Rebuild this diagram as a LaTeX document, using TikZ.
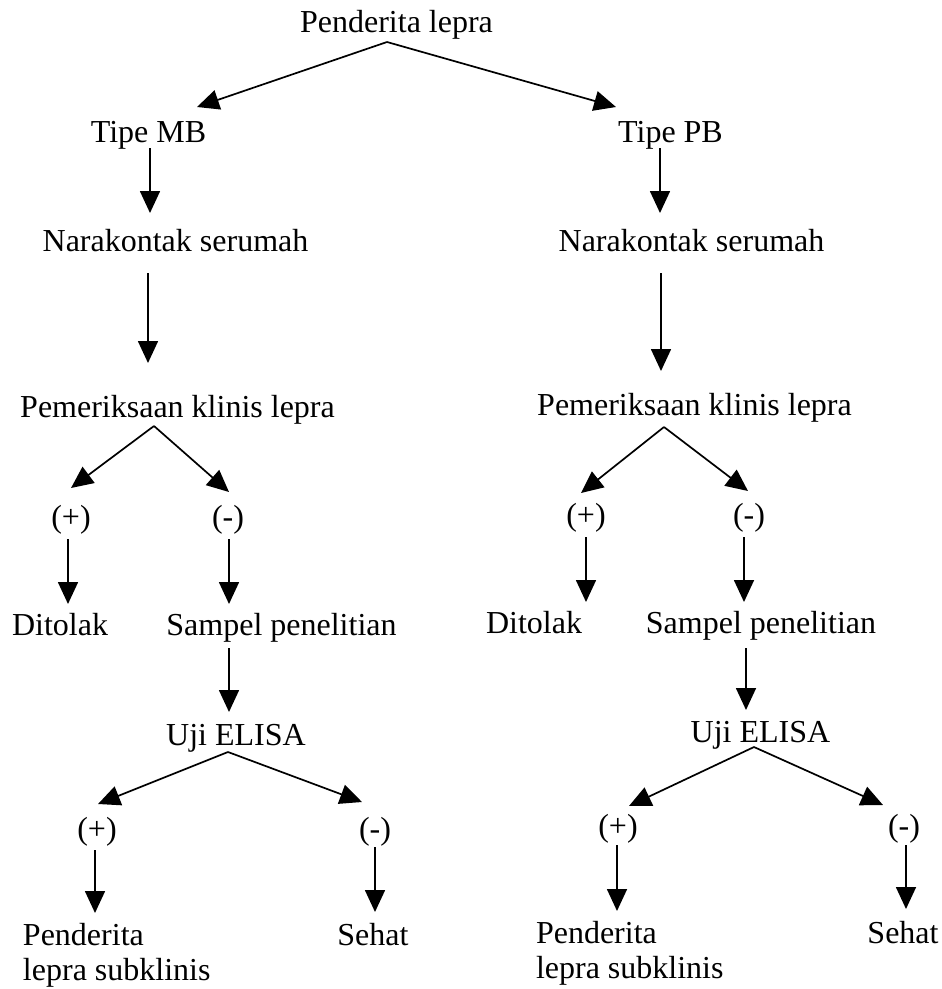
\documentclass[tikz,border=0pt]{standalone}
\usepackage{fontspec}
\setmainfont{Liberation Serif}
\usetikzlibrary{arrows.meta}
\tikzset{
  lbl/.style={inner sep=0pt, outer sep=0pt, anchor=base, text height=22pt, text depth=7pt,
    font=\fontsize{32}{35}\selectfont},
  lbl2/.style={inner sep=0pt, outer sep=0pt, anchor=north west, align=left,
    font=\fontsize{32}{35}\selectfont},
  arr/.style={line width=1.7pt, -{Triangle[length=22pt,width=20pt]}}
}
\begin{document}
\begin{tikzpicture}[x=1pt,y=-1pt]
\path[use as bounding box, fill=white] (0,0) rectangle (942,989);

% nodes
\node[lbl] (pl)  at (396.5,32) {Penderita lepra};
\node[lbl] (tmb) at (148.5,142) {Tipe MB};
\node[lbl] (tpb) at (670.5,142) {Tipe PB};
\node[lbl] (nk1) at (175.5,251) {Narakontak serumah};
\node[lbl] (nk2) at (691.5,251) {Narakontak serumah};
\node[lbl] (pk1) at (177.5,417) {Pemeriksaan klinis lepra};
\node[lbl] (pk2) at (694.5,415) {Pemeriksaan klinis lepra};
\node[lbl] (p1a) at (71,527) {(+)};
\node[lbl] (m1a) at (228,527) {(-)};
\node[lbl] (p2a) at (586,525) {(+)};
\node[lbl] (m2a) at (749,525) {(-)};
\node[lbl] (dt1) at (60,635) {Ditolak};
\node[lbl] (sp1) at (281.5,635) {Sampel penelitian};
\node[lbl] (dt2) at (534,633) {Ditolak};
\node[lbl] (sp2) at (761,633) {Sampel penelitian};
\node[lbl] (ue1) at (236,745) {Uji ELISA};
\node[lbl] (ue2) at (760.5,742) {Uji ELISA};
\node[lbl] (p1b) at (97,839) {(+)};
\node[lbl] (m1b) at (375,839) {(-)};
\node[lbl] (p2b) at (618,836) {(+)};
\node[lbl] (m2b) at (904,836) {(-)};
\node[lbl2] (pd1) at (23,923) {Penderita\\lepra subklinis};
\node[lbl] (sh1) at (373,945) {Sehat};
\node[lbl2] (pd2) at (536,921) {Penderita\\lepra subklinis};
\node[lbl] (sh2) at (903,943) {Sehat};

% connectors
\draw[arr] ([shift={(-9.5,10)}]pl.base) -- ([shift={(48.5,-35)}]tmb.base);
\draw[arr] ([shift={(-9.5,10)}]pl.base) -- ([shift={(-54.5,-35)}]tpb.base);
\draw[arr] ([shift={(1.5,6)}]tmb.base) -- ([shift={(-25.5,-38)}]nk1.base);
\draw[arr] ([shift={(-10.5,6)}]tpb.base) -- ([shift={(-31.5,-38)}]nk2.base);
\draw[arr] ([shift={(-27.5,22)}]nk1.base) -- ([shift={(-29.5,-54)}]pk1.base);
\draw[arr] ([shift={(-30.5,22)}]nk2.base) -- ([shift={(-33.5,-44)}]pk2.base);
\draw[arr] ([shift={(-23.5,9)}]pk1.base) -- ([shift={(0,-39)}]p1a.base);
\draw[arr] ([shift={(-23.5,9)}]pk1.base) -- ([shift={(1,-35)}]m1a.base);
\draw[arr] ([shift={(-30.5,12)}]pk2.base) -- ([shift={(-5,-32)}]p2a.base);
\draw[arr] ([shift={(-30.5,12)}]pk2.base) -- ([shift={(-1,-34)}]m2a.base);
\draw[arr] ([shift={(-3,12)}]p1a.base) -- ([shift={(8,-31)}]dt1.base);
\draw[arr] ([shift={(1,12)}]m1a.base) -- ([shift={(-52.5,-31)}]sp1.base);
\draw[arr] ([shift={(0,12)}]p2a.base) -- ([shift={(52,-31)}]dt2.base);
\draw[arr] ([shift={(-5,12)}]m2a.base) -- ([shift={(-17,-31)}]sp2.base);
\draw[arr] ([shift={(-52.5,13)}]sp1.base) -- ([shift={(-7,-33)}]ue1.base);
\draw[arr] ([shift={(-15,15)}]sp2.base) -- ([shift={(-14.5,-32)}]ue2.base);
\draw[arr] ([shift={(-8,7)}]ue1.base) -- ([shift={(1,-35)}]p1b.base);
\draw[arr] ([shift={(-8,7)}]ue1.base) -- ([shift={(-13,-37)}]m1b.base);
\draw[arr] ([shift={(-6.5,5)}]ue2.base) -- ([shift={(11,-30)}]p2b.base);
\draw[arr] ([shift={(-6.5,5)}]ue2.base) -- ([shift={(-21,-31)}]m2b.base);
\draw[arr] ([shift={(-2,11)}]p1b.base) -- ([shift={(72,-10)}]pd1.north west);
\draw[arr] ([shift={(0,8)}]m1b.base) -- ([shift={(2,-33)}]sh1.base);
\draw[arr] ([shift={(-1,9)}]p2b.base) -- ([shift={(81,-10)}]pd2.north west);
\draw[arr] ([shift={(2,9)}]m2b.base) -- ([shift={(3,-34)}]sh2.base);
\end{tikzpicture}
\end{document}
